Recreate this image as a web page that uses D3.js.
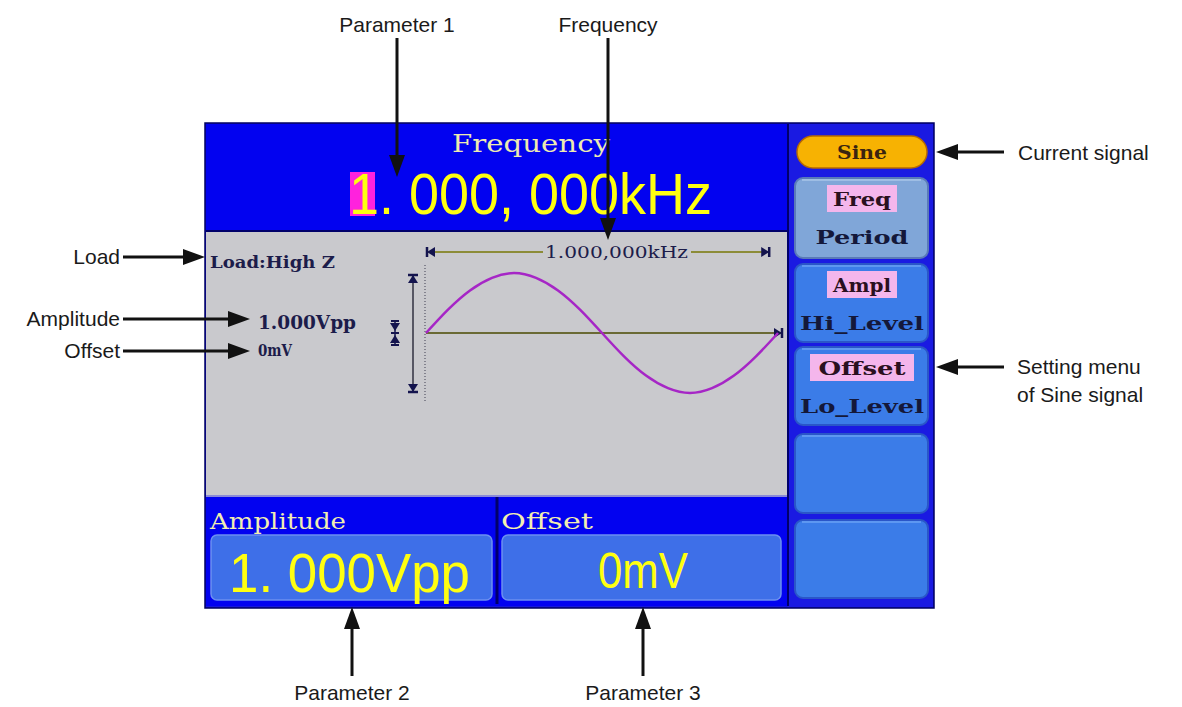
<!DOCTYPE html>
<html>
<head>
<meta charset="utf-8">
<script src="https://cdn.jsdelivr.net/npm/d3@7"></script>
<style>
  html, body { margin: 0; padding: 0; background: #ffffff; }
  svg { display: block; }
</style>
</head>
<body>
<svg id="chart" width="1182" height="707"></svg>
<script>
// ---------------- DATA ----------------
const signalName = "Sine";
const headerLabel = "Frequency";
const frequencyValue = "1. 000, 000kHz";
const frequencyShort = "1.000,000kHz";
const loadText = "Load:High Z";
const amplitudeText = "1.000Vpp";
const offsetText = "0mV";
const paramLabels = ["Amplitude", "Offset"];
const paramValues = ["1. 000Vpp", "0mV"];
const menuTop = ["Freq", "Ampl", "Offset", "", ""];
const menuBottom = ["Period", "Hi_Level", "Lo_Level", "", ""];
const wavePhase = [0, 0.0625, 0.125, 0.1875, 0.25, 0.3125, 0.375, 0.4375, 0.5,
                   0.5625, 0.625, 0.6875, 0.75, 0.8125, 0.875, 0.9375, 1];
const waveValue = [0, 0.39, 0.71, 0.92, 1, 0.92, 0.71, 0.39, 0,
                   -0.39, -0.71, -0.92, -1, -0.92, -0.71, -0.39, 0];
const calloutTexts = ["Parameter 1", "Frequency", "Current signal", "Setting menu",
                      "of Sine signal", "Load", "Amplitude", "Offset", "Parameter 2", "Parameter 3"];

// ---------------- DRAW ----------------
const svg = d3.select("#chart");
const screenFont = "'DejaVu Serif', 'Liberation Serif', serif";
const sansFont = "'Liberation Sans', Arial, sans-serif";

// scales for the waveform window
const xWave = d3.scaleLinear().domain([0, 1]).range([426, 778]);
const yWave = d3.scaleLinear().domain([-1, 1]).range([393, 273]);

function screenText(t, x, y, size, fill, len, opts = {}) {
  return svg.append("text").attr("x", x).attr("y", y).text(t)
    .attr("text-anchor", opts.anchor || "start")
    .attr("font-family", screenFont).attr("font-weight", opts.bold ? "bold" : "normal")
    .attr("font-size", size).attr("fill", fill)
    .attr("textLength", len).attr("lengthAdjust", "spacingAndGlyphs");
}

// screen body
svg.append("rect").attr("x", 205).attr("y", 123).attr("width", 729).attr("height", 485)
  .attr("fill", "#1616dc").attr("stroke", "#000060").attr("stroke-width", 1.5);

// header
svg.append("rect").attr("x", 206).attr("y", 124).attr("width", 581).attr("height", 106)
  .attr("fill", "#0202f0");
svg.append("line").attr("x1", 206).attr("x2", 787).attr("y1", 231).attr("y2", 231)
  .attr("stroke", "#00006a").attr("stroke-width", 2);
screenText(headerLabel, 452, 152, 24, "#eeeab0", 158);
svg.append("rect").attr("x", 350).attr("y", 172).attr("width", 25).attr("height", 44)
  .attr("fill", "#ff22dd");
svg.append("text").attr("x", 349).attr("y", 214).text(frequencyValue)
  .attr("font-family", sansFont).attr("font-size", 58).attr("fill", "#ffff10")
  .attr("textLength", 363).attr("lengthAdjust", "spacingAndGlyphs");

// gray waveform panel
svg.append("rect").attr("x", 206).attr("y", 232).attr("width", 581).attr("height", 264)
  .attr("fill", "#c9c9cd");
screenText(loadText, 210, 268, 17, "#1c1c4a", 125, { bold: true });
screenText(amplitudeText, 258, 329, 18, "#1c1c4a", 98, { bold: true });
screenText(offsetText, 258, 356, 17, "#1c1c4a", 34, { bold: true });

const markColor = "#14144e";
// frequency span arrow
const fy = 252;
svg.append("line").attr("x1", xWave(0)).attr("x2", xWave(0.975)).attr("y1", fy).attr("y2", fy)
  .attr("stroke", "#8c8c38").attr("stroke-width", 2);
svg.append("rect").attr("x", 543).attr("y", 243).attr("width", 148).attr("height", 18).attr("fill", "#c9c9cd");
screenText(frequencyShort, 545, 258, 17, "#1c1c4a", 143);
function barTri(x, y, dir) { // dir -1 : |< at left, +1 : >| at right
  const g = svg.append("g");
  g.append("line").attr("x1", x).attr("x2", x).attr("y1", y - 5).attr("y2", y + 5)
    .attr("stroke", markColor).attr("stroke-width", 2.5);
  g.append("path").attr("d", `M${x},${y} L${x - dir * 8},${y - 5} L${x - dir * 8},${y + 5}Z`).attr("fill", markColor);
}
barTri(xWave(0) + 1, fy, -1);
barTri(xWave(0.975), fy, 1);

// time baseline
svg.append("line").attr("x1", xWave(0)).attr("x2", xWave(1) + 3).attr("y1", yWave(0)).attr("y2", yWave(0))
  .attr("stroke", "#6a6a34").attr("stroke-width", 2);
barTri(xWave(1) + 4, yWave(0), 1);

// dotted vertical axis
svg.append("line").attr("x1", 425).attr("x2", 425).attr("y1", 265).attr("y2", 401)
  .attr("stroke", "#555566").attr("stroke-width", 1.2).attr("stroke-dasharray", "1,2");

// amplitude arrow
const ax = 413;
svg.append("line").attr("x1", ax).attr("x2", ax).attr("y1", yWave(1) + 2).attr("y2", yWave(-1) - 1)
  .attr("stroke", "#303040").attr("stroke-width", 1.5);
[[yWave(1) + 2, 1], [yWave(-1) - 1, -1]].forEach(([y, d]) => {
  svg.append("line").attr("x1", ax - 5).attr("x2", ax + 5).attr("y1", y).attr("y2", y)
    .attr("stroke", markColor).attr("stroke-width", 2.5);
  svg.append("path").attr("d", `M${ax},${y} L${ax - 5},${y + d * 8} L${ax + 5},${y + d * 8}Z`).attr("fill", markColor);
});

// offset marker
const ox = 395, oy = yWave(0);
svg.append("line").attr("x1", ox).attr("x2", ox).attr("y1", oy - 13).attr("y2", oy + 13)
  .attr("stroke", markColor).attr("stroke-width", 1.5);
[-12, 0, 12].forEach(dy => svg.append("line").attr("x1", ox - 4).attr("x2", ox + 4)
  .attr("y1", oy + dy).attr("y2", oy + dy).attr("stroke", markColor).attr("stroke-width", 2));
svg.append("path").attr("d", `M${ox - 5},${oy - 10} L${ox + 5},${oy - 10} L${ox},${oy - 2}Z`).attr("fill", markColor);
svg.append("path").attr("d", `M${ox - 5},${oy + 10} L${ox + 5},${oy + 10} L${ox},${oy + 2}Z`).attr("fill", markColor);

// waveform
const wave = wavePhase.map((p, i) => [p, waveValue[i]]);
svg.append("path").datum(wave)
  .attr("d", d3.line().x(d => xWave(d[0])).y(d => yWave(d[1])).curve(d3.curveNatural))
  .attr("fill", "none").attr("stroke", "#a626c6").attr("stroke-width", 2.5);

// bottom parameter section
svg.append("rect").attr("x", 206).attr("y", 496).attr("width", 581).attr("height", 110).attr("fill", "#0202f0");
svg.append("line").attr("x1", 206).attr("x2", 787).attr("y1", 496).attr("y2", 496)
  .attr("stroke", "#8a8ad8").attr("stroke-width", 2);
svg.append("line").attr("x1", 497).attr("x2", 497).attr("y1", 497).attr("y2", 604)
  .attr("stroke", "#00006a").attr("stroke-width", 3);
const boxX = [211, 502], boxW = [281, 279];
paramLabels.forEach((lab, i) => {
  screenText(lab, boxX[i] - 1, 529, 23, "#f2eeb0", i === 0 ? 136 : 92);
  svg.append("rect").attr("x", boxX[i]).attr("y", 535).attr("width", boxW[i]).attr("height", 65)
    .attr("rx", 6).attr("fill", "#3e6fe8").attr("stroke", "#6c90f0").attr("stroke-width", 1.5);
});
svg.append("text").attr("x", 229).attr("y", 592).text(paramValues[0])
  .attr("font-family", sansFont).attr("font-size", 56).attr("fill", "#ffff10")
  .attr("textLength", 241).attr("lengthAdjust", "spacingAndGlyphs");
svg.append("text").attr("x", 598).attr("y", 588).text(paramValues[1])
  .attr("font-family", sansFont).attr("font-size", 50).attr("fill", "#ffff10")
  .attr("textLength", 90).attr("lengthAdjust", "spacingAndGlyphs");

// right menu panel
svg.append("rect").attr("x", 788).attr("y", 124).attr("width", 145).attr("height", 483).attr("fill", "#1a1ae2");
svg.append("line").attr("x1", 788).attr("x2", 788).attr("y1", 124).attr("y2", 606)
  .attr("stroke", "#00006a").attr("stroke-width", 2);
svg.append("rect").attr("x", 797).attr("y", 136).attr("width", 130).attr("height", 32).attr("rx", 16)
  .attr("fill", "#f7b202").attr("stroke", "#b86a00").attr("stroke-width", 1.5);
screenText(signalName, 862, 159, 19, "#3a2410", 50, { bold: true, anchor: "middle" });

const btnY = [178, 264, 347, 434, 520], btnH = [80, 78, 78, 79, 78];
menuTop.forEach((t, i) => {
  svg.append("rect").attr("x", 795).attr("y", btnY[i]).attr("width", 133).attr("height", btnH[i]).attr("rx", 8)
    .attr("fill", i === 0 ? "#80a6d8" : "#3b7ce8").attr("stroke", i === 0 ? "#5a7ab8" : "#2a56c8").attr("stroke-width", 2);
  svg.append("line").attr("x1", 802).attr("x2", 921).attr("y1", btnY[i] + 2).attr("y2", btnY[i] + 2)
    .attr("stroke", i === 0 ? "#a8c4e8" : "#6aa0f4").attr("stroke-width", 1.5);
  if (t) {
    const w = t.length * 17 + 2;
    svg.append("rect").attr("x", 862 - w / 2).attr("y", btnY[i] + 7).attr("width", w).attr("height", 27)
      .attr("fill", "#f4b6ec");
    screenText(t, 862, btnY[i] + 28, 19, "#2a1020", t.length * 14.5, { bold: true, anchor: "middle" });
  }
  const b = menuBottom[i];
  if (b) {
    screenText(b, 862, btnY[i] + 66, 19, "#14183a", b.length * 15.5, { bold: true, anchor: "middle" });
  }
});

// ---------------- CALLOUTS ----------------
function arrow(x1, y1, x2, y2) {
  const ang = Math.atan2(y2 - y1, x2 - x1), L = 22, W = 8;
  const bx = x2 - L * Math.cos(ang), by = y2 - L * Math.sin(ang);
  svg.append("line").attr("x1", x1).attr("y1", y1).attr("x2", bx).attr("y2", by)
    .attr("stroke", "#111").attr("stroke-width", 3);
  const px = -Math.sin(ang) * W, py = Math.cos(ang) * W;
  svg.append("path").attr("d", `M${x2},${y2} L${bx + px},${by + py} L${bx - px},${by - py}Z`).attr("fill", "#111");
}
function label(t, x, y, anchor) {
  svg.append("text").attr("x", x).attr("y", y).attr("text-anchor", anchor).text(t)
    .attr("font-family", sansFont).attr("font-size", 21).attr("fill", "#1a1a1a");
}
label(calloutTexts[0], 397, 32, "middle"); arrow(397, 38, 397, 177);
label(calloutTexts[1], 608, 32, "middle"); arrow(608, 38, 608, 240);
label(calloutTexts[2], 1018, 160, "start"); arrow(1004, 152, 936, 152);
label(calloutTexts[3], 1017, 374, "start");
label(calloutTexts[4], 1017, 402, "start"); arrow(1004, 367, 936, 367);
label(calloutTexts[5], 120, 264, "end"); arrow(123, 257, 205, 257);
label(calloutTexts[6], 120, 326, "end"); arrow(123, 319, 250, 319);
label(calloutTexts[7], 120, 358, "end"); arrow(123, 351, 250, 351);
label(calloutTexts[8], 352, 700, "middle"); arrow(352, 676, 352, 607);
label(calloutTexts[9], 643, 700, "middle"); arrow(643, 676, 643, 607);
</script>
</body>
</html>
